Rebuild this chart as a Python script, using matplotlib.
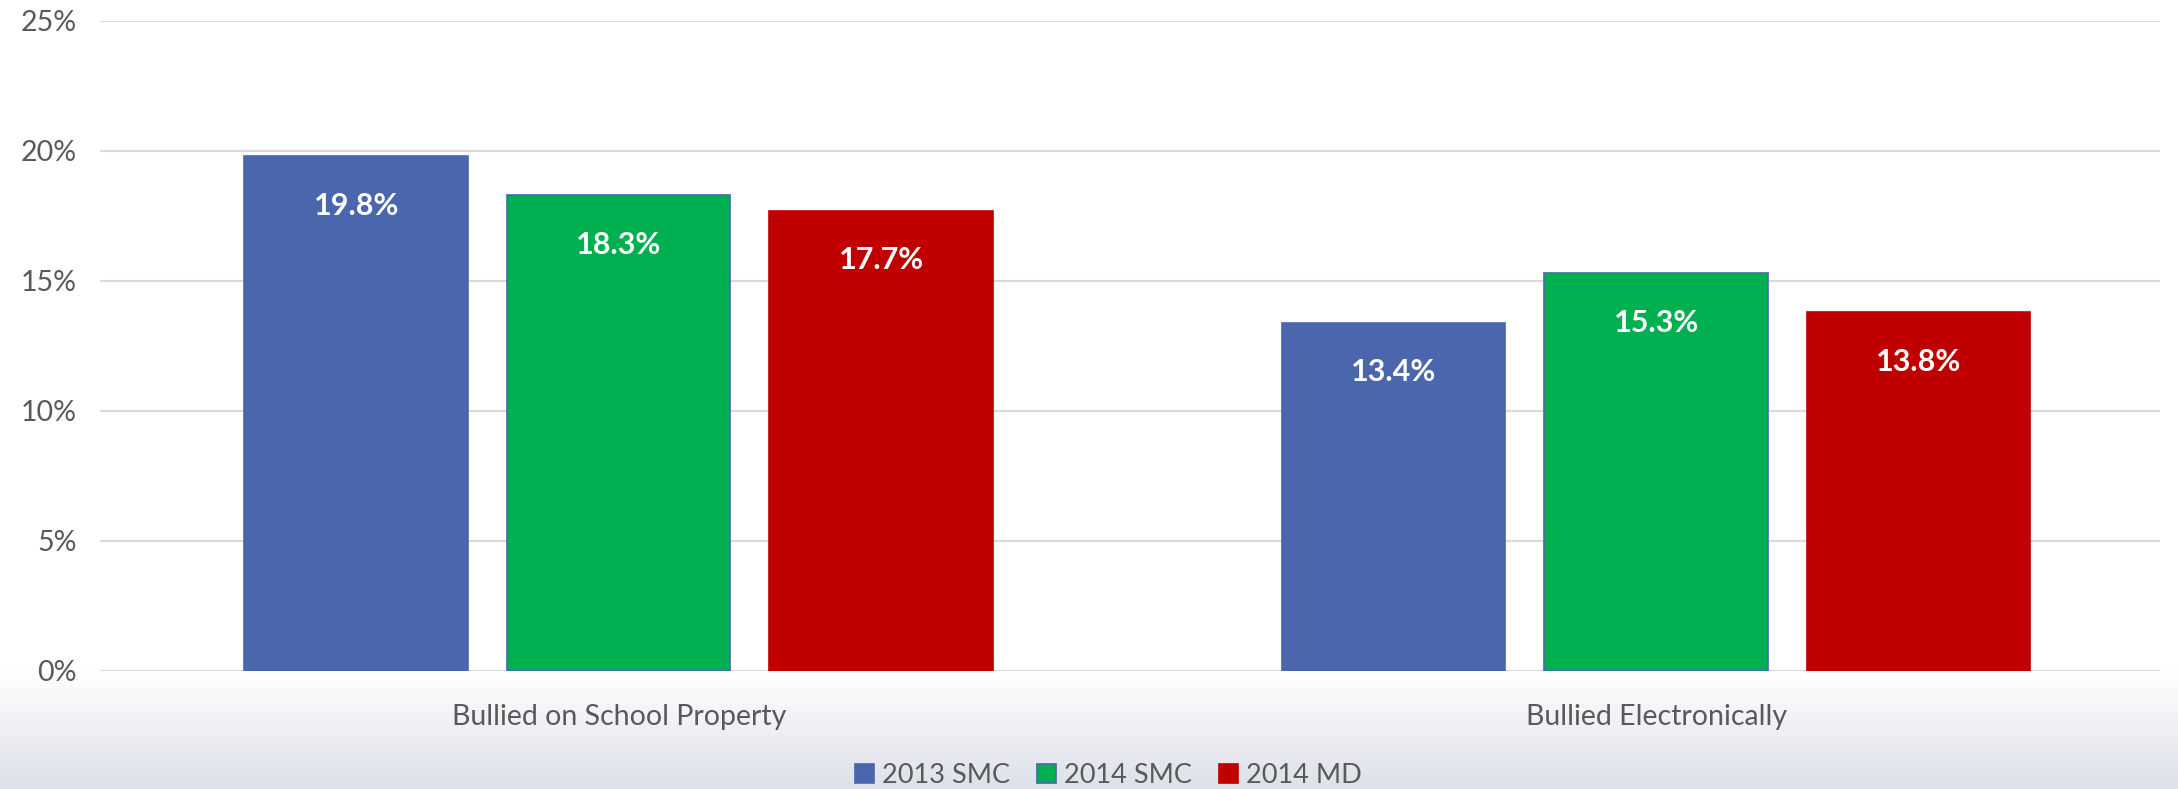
import matplotlib.pyplot as plt
import numpy as np

categories = ['Bullied on School Property', 'Bullied Electronically']
series = ['2013 SMC', '2014 SMC', '2014 MD']
values = [[19.8, 13.4],
          [18.3, 15.3],
          [17.7, 13.8]]
colors = ['#4a66ac', '#00b050', '#c00000']
edges = ['#4a66ac', '#4a66ac', '#c00000']
yticks = [0, 5, 10, 15, 20, 25]

plt.rcParams['font.family'] = ['Lato', 'DejaVu Sans']

fig = plt.figure(figsize=(21.78, 7.89), dpi=100)

# background: white, fading to light grey-blue below the plot area
bg = fig.add_axes([0, 0, 1, 1], zorder=-10)
t = np.linspace(0, 1, 400)            # 0 = top, 1 = bottom
grad = np.clip((t - 0.85) / 0.15, 0, 1)
cmap = plt.matplotlib.colors.LinearSegmentedColormap.from_list('g', ['#ffffff', '#dde1e9'])
bg.imshow(grad.reshape(-1, 1), aspect='auto', cmap=cmap, extent=[0, 1, 0, 1], origin='upper')
bg.axis('off')

ax = fig.add_axes([0.0459, 0.1496, 0.946, 0.8238])
ax.patch.set_alpha(0)

x = np.arange(len(categories))
width = 0.2155
step = 0.253
for i, s in enumerate(series):
    pos = x + (i - 1) * step
    ax.bar(pos, values[i], width, color=colors[i], edgecolor=edges[i], linewidth=1.2, label=s, zorder=3)
    for px, v in zip(pos, values[i]):
        ax.text(px, v - 1.9, f'{v:.1f}%', ha='center', va='center', color='white',
                fontsize=22, fontweight='bold', zorder=4)

ax.set_xlim(-0.5, 1.486)
ax.set_ylim(0, 25)
ax.set_yticks(yticks)
ax.set_yticklabels([f'{t}%' for t in yticks], fontsize=20.5, color='#595959')
ax.yaxis.grid(True, color='#d9d9d9', linewidth=1.5, zorder=0)
ax.set_axisbelow(True)
ax.tick_params(axis='y', length=0, pad=17)
ax.tick_params(axis='x', length=0, pad=24)
ax.set_xticks(x)
ax.set_xticklabels(categories, fontsize=20.5, color='#595959')
for sp in ax.spines.values():
    sp.set_visible(False)

leg = fig.legend(loc='center', bbox_to_anchor=(0.509, 0.017), ncol=3, frameon=False,
                 fontsize=19.5, labelcolor='#595959', handlelength=0.7, handleheight=0.7,
                 handletextpad=0.3, columnspacing=1.0)

fig.savefig('out.png', dpi=100)
